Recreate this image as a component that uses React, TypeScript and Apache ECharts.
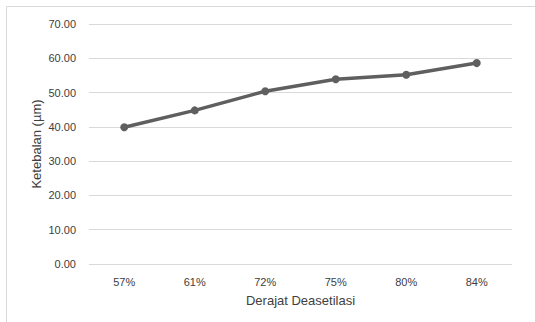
import React, { useEffect, useRef } from "react";
import * as echarts from "echarts";

const categories = ["57%", "61%", "72%", "75%", "80%", "84%"];
const thickness = [39.9, 44.8, 50.4, 53.9, 55.2, 58.6];
const yMin = 0;
const yMax = 70;
const yStep = 10;

const FONT = "'Liberation Sans', Arial, sans-serif";

export default function App() {
  const ref = useRef<HTMLDivElement>(null);

  useEffect(() => {
    if (!ref.current) return;
    const chart = echarts.init(ref.current, null, { renderer: "svg" });
    chart.setOption({
      animation: false,
      backgroundColor: "#ffffff",
      graphic: [
        {
          type: "rect",
          shape: { x: 6.5, y: 6.5, width: 560, height: 340 },
          style: { fill: "none", stroke: "#d9d9d9", lineWidth: 1 },
          silent: true,
        },
      ],
      grid: { left: 89, right: 23, top: 24, bottom: 58 },
      xAxis: {
        type: "category",
        data: categories,
        name: "Derajat Deasetilasi",
        nameLocation: "middle",
        nameGap: 30,
        nameMoveOverlap: false,
        nameTextStyle: { color: "#404040", fontFamily: FONT, fontSize: 13 },
        axisLine: { show: false },
        axisTick: { show: false },
        axisLabel: { color: "#404040", fontFamily: FONT, fontSize: 11, margin: 12 },
      },
      yAxis: {
        type: "value",
        min: yMin,
        max: yMax,
        interval: yStep,
        name: "Ketebalan (µm)",
        nameLocation: "middle",
        nameGap: 46,
        nameMoveOverlap: false,
        nameRotate: 90,
        nameTextStyle: { color: "#404040", fontFamily: FONT, fontSize: 13 },
        axisLine: { show: false },
        axisTick: { show: false },
        splitLine: { lineStyle: { color: "#d9d9d9", width: 1 } },
        axisLabel: {
          color: "#404040",
          fontFamily: FONT,
          fontSize: 11,
          margin: 13,
          formatter: (v: number) => v.toFixed(2),
        },
      },
      series: [
        {
          type: "line",
          data: thickness,
          symbol: "circle",
          symbolSize: 8,
          lineStyle: { color: "#5f5f5f", width: 3.5 },
          itemStyle: { color: "#5f5f5f" },
        },
      ],
    });
    return () => chart.dispose();
  }, []);

  return (
    <div
      ref={ref}
      style={{ position: "fixed", left: 0, top: 0, width: 535, height: 322 }}
    />
  );
}
